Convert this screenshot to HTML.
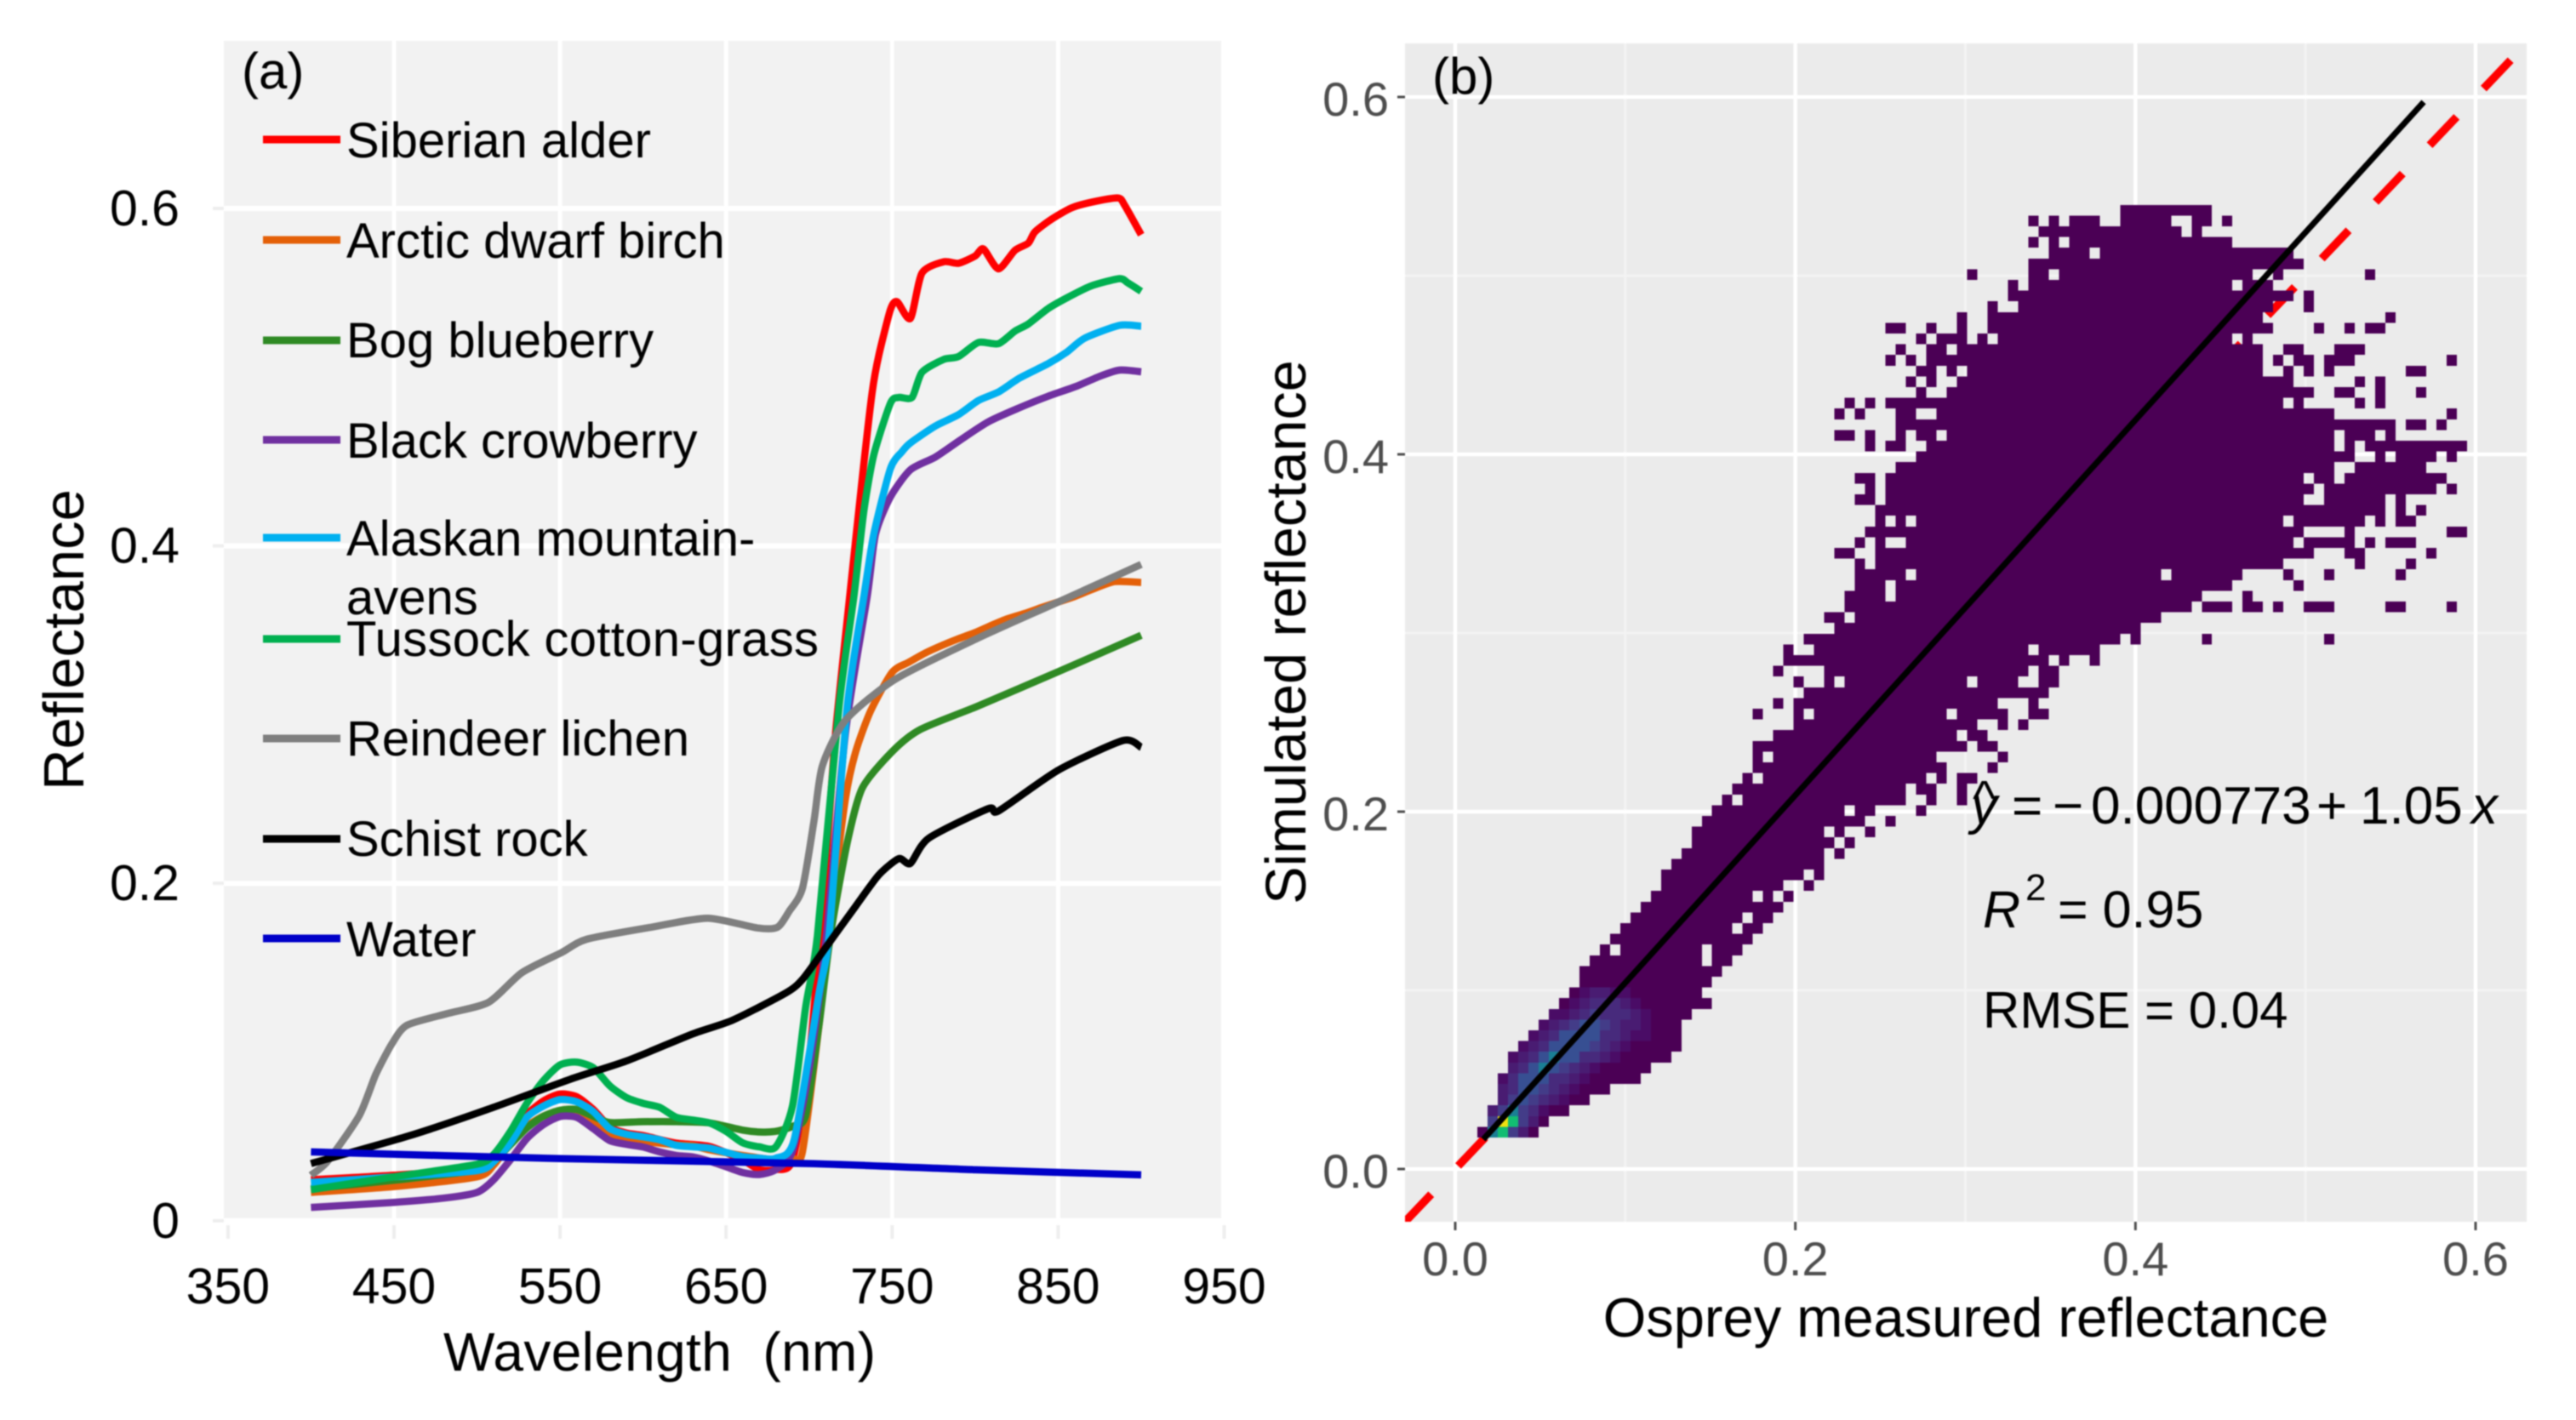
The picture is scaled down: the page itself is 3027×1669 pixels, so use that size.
<!DOCTYPE html>
<html lang="en">
<head>
<meta charset="utf-8">
<title>Reflectance spectra and simulated vs measured reflectance</title>
<style>
html,body{margin:0;padding:0;background:#fff;}
svg{display:block;filter:blur(0.7px);font-family:"Liberation Sans",Arial,sans-serif;}
</style>
</head>
<body>
<svg id="figure" xmlns="http://www.w3.org/2000/svg" width="3027" height="1669" viewBox="0 0 3027 1669">
  <rect x="0" y="0" width="3027" height="1669" fill="#ffffff"/>
  <defs>
    <clipPath id="clip-b"><rect x="1651" y="51" width="1318" height="1385"/></clipPath>
  </defs>

  <g id="panel-a">
    <rect x="263" y="48" width="1172" height="1385" fill="#f2f2f2"/>
    <g id="a-grid"></g>
    <g id="a-lines"></g>
    <g id="a-ticks" font-size="59" fill="#000"></g>
    <text x="284" y="104" font-size="60" fill="#000">(a)</text>
    <text x="775" y="1611" font-size="64" fill="#000" text-anchor="middle" xml:space="preserve" textLength="508">Wavelength  (nm)</text>
    <text transform="translate(98,752) rotate(-90)" font-size="67" fill="#000" text-anchor="middle">Reflectance</text>

    <g font-size="58" fill="#000" stroke-linecap="butt">
      <line x1="309" x2="400" y1="164" y2="164" stroke="#ff0000" stroke-width="9"/>
      <text x="407" y="185">Siberian alder</text>
      <line x1="309" x2="400" y1="282" y2="282" stroke="#e46008" stroke-width="9"/>
      <text x="407" y="303">Arctic dwarf birch</text>
      <line x1="309" x2="400" y1="400" y2="400" stroke="#2f8a24" stroke-width="9"/>
      <text x="407" y="420">Bog blueberry</text>
      <line x1="309" x2="400" y1="517" y2="517" stroke="#7030a0" stroke-width="9"/>
      <text x="407" y="538">Black crowberry</text>
      <line x1="309" x2="400" y1="632" y2="632" stroke="#00b0f0" stroke-width="9"/>
      <text x="407" y="653">Alaskan mountain-</text>
      <text x="407" y="722">avens</text>
      <line x1="309" x2="400" y1="751" y2="751" stroke="#00b050" stroke-width="9"/>
      <text x="407" y="771" textLength="555">Tussock cotton-grass</text>
      <line x1="309" x2="400" y1="868" y2="868" stroke="#7f7f7f" stroke-width="9"/>
      <text x="407" y="888">Reindeer lichen</text>
      <line x1="309" x2="400" y1="986" y2="986" stroke="#000000" stroke-width="9"/>
      <text x="407" y="1006">Schist rock</text>
      <line x1="309" x2="400" y1="1103" y2="1103" stroke="#0000c8" stroke-width="9"/>
      <text x="407" y="1124">Water</text>
    </g>
  </g>

  <g id="panel-b">
    <rect x="1651" y="51" width="1318" height="1385" fill="#ebebeb"/>
    <g id="b-grid"></g>
    <g clip-path="url(#clip-b)">
      <line id="one-to-one" stroke="#ff0000" stroke-width="9.5" stroke-dasharray="46 46" fill="none"/>
      <g id="heat" shape-rendering="crispEdges"></g>
      <line id="fit-line" stroke="#000000" stroke-width="7" fill="none"/>
    </g>
    <g id="b-ticks" font-size="56" fill="#4d4d4d"></g>
    <text x="1683" y="110" font-size="60" fill="#000">(b)</text>
    <text x="2310" y="1571" font-size="65" fill="#000" text-anchor="middle">Osprey measured reflectance</text>
    <text transform="translate(1534,743) rotate(-90)" font-size="66.5" fill="#000" text-anchor="middle">Simulated reflectance</text>

    <g font-size="62" fill="#000">
      <text x="2316" y="968" font-style="italic">y</text>
      <text x="2318" y="958" font-size="58">^</text>
      <text x="2364" y="968">=</text>
      <text x="2412" y="968">−</text>
      <text x="2457" y="968">0.000773</text>
      <text x="2722" y="968">+</text>
      <text x="2773" y="968">1.05</text>
      <text x="2904" y="968" font-style="italic">x</text>
    </g>
    <g font-size="61" fill="#000">
      <text x="2330" y="1090" font-style="italic">R</text>
      <text x="2380" y="1058" font-size="44">2</text>
      <text x="2418" y="1090">= 0.95</text>
    </g>
    <text x="2330" y="1208" font-size="60" fill="#000">RMSE = 0.04</text>
  </g>
</svg>

<script>
/* ---------- Panel (a) data: wavelength (nm) and reflectance per species ---------- */
const alderWl = [400,450,500,510,520,530,540,550,560,570,580,590,600,620,640,660,670,680,690,700,710,716,725,732,738,742,749,753,761,768,781,790,800,805,814,824,832,836,846,858,870,886,890,900];
const alderR = [.0243,.027,.031,.037,.05,.063,.071,.0751,.0735,.066,.0555,.052,.0505,.046,.044,.036,.0303,.0303,.036,.095,.21,.29,.375,.44,.491,.513,.54,.5447,.5348,.5617,.5684,.5675,.5718,.576,.5642,.5752,.5794,.5861,.5936,.6003,.6037,.6062,.602,.5844];
const birchWl = [400,450,500,510,520,530,540,550,560,570,580,590,600,620,630,640,660,680,690,696,706,715,722,728,737,750,760,770,780,790,801,810,820,830,840,850,860,870,884,900];
const birchR = [.0168,.0202,.026,.033,.046,.056,.062,.0645,.064,.058,.05,.048,.047,.045,.0445,.042,.0387,.036,.037,.0408,.1164,.197,.2509,.2778,.302,.325,.331,.3365,.341,.345,.349,.353,.357,.36,.3635,.3667,.37,.374,.3788,.3783];
const blueberryWl = [400,450,500,510,520,530,540,550,560,570,580,600,620,640,660,670,680,690,698,706,713,723,732,750,767,801,850,900];
const blueberryR = [.019,.024,.03,.035,.045,.055,.062,.0655,.066,.062,.0582,.0587,.0587,.058,.0537,.0526,.053,.056,.0625,.1164,.17,.2242,.2564,.278,.2912,.3048,.3254,.347];
const crowberryWl = [400,450,480,500,510,520,530,540,550,560,570,580,590,600,610,620,630,640,650,660,670,680,690,700,710,722,735,740,749,761,776,791,808,827,844,861,875,887,900];
const crowberryR = [.0079,.0109,.0134,.0168,.0243,.036,.0487,.057,.0618,.0613,.0546,.0475,.0453,.0437,.0408,.0387,.0378,.0353,.032,.0286,.0274,.0303,.0412,.09,.165,.29,.37,.407,.429,.4451,.4526,.4627,.4736,.482,.4887,.4946,.5005,.5042,.5032];
const avensWl = [400,450,500,510,520,530,540,550,560,570,580,590,600,610,620,630,640,650,660,670,680,691,706,712,723,733,739,749,756,761,776,790,802,814,827,844,855,866,887,900];
const avensR = [.0227,.026,.0297,.035,.046,.0613,.068,.0718,.0705,.0647,.0546,.0513,.0497,.048,.0447,.0438,.043,.0405,.038,.0371,.0371,.048,.135,.169,.3048,.37,.407,.4458,.4559,.461,.471,.4778,.4862,.4912,.4996,.508,.5147,.5231,.5307,.5302];
const cottonGrassWl = [400,450,500,510,520,530,540,550,560,570,580,590,600,610,620,630,640,650,660,670,680,690,698,705,718,727,733,739,749,754,762,768,781,790,802,814,824,832,844,856,870,887,892,900];
const cottonGrassR = [.0184,.026,.0335,.0393,.0528,.0696,.0831,.0924,.094,.0907,.08,.073,.0696,.0672,.0613,.0597,.058,.053,.0462,.0438,.0438,.068,.127,.1688,.3048,.37,.4207,.454,.4845,.488,.488,.5029,.5105,.5122,.5206,.5198,.5273,.5315,.5407,.5474,.5541,.5584,.5559,.5509];
const lichenWl = [400,410,429,439,449,458,483,507,527,551,566,605,639,669,681,688,696,703,708,722,752,801,850,900];
const lichenR = [.027,.0353,.0622,.0867,.1053,.116,.123,.1295,.147,.159,.1668,.174,.1793,.1735,.174,.1834,.197,.2373,.2697,.2967,.321,.345,.3667,.389];
const rockWl = [400,458,507,556,590,630,654,686,696,710,728,742,754,761,772,808,814,850,889,900];
const rockR = [.0339,.05,.0662,.0838,.0947,.1108,.1189,.135,.143,.1619,.1864,.205,.2146,.2118,.2267,.2443,.2428,.267,.2846,.2806];
const waterWl = [400,550,700,800,900];
const waterR = [.0408,.0368,.0339,.0302,.0272];

const aXTicks = [350,450,550,650,750,850,950];
const aYTicks = [0,0.2,0.4,0.6];
const aYTickLabels = ["0","0.2","0.4","0.6"];

/* ---------- Panel (b) data ---------- */
const bTicks = [0,0.2,0.4,0.6];
const bTickLabels = ["0.0","0.2","0.4","0.6"];
const bMinorTicks = [0.1,0.3,0.5];
const fitIntercept = -0.000773;
const fitSlope = 1.05;
const fitXStart = 0.0165;
const fitXEnd = 0.5695;
const identityRange = [-0.03,0.63];
const binOriginX = 0.013;
const binOriginY = 0.0176;
const binSize = 0.006;

/* occupied bins per row: flat [firstCol,lastCol, firstCol,lastCol, ...]; index = row from bottom */
const binRuns = [
[0,5],[1,6],[1,8],[2,10],[2,12],[2,15],[3,16],[3,18],[4,19],[5,19],
[6,19],[7,20],[8,22],[9,21],[10,22],[10,23],[11,21,23,24],[12,12,14,21,23,25],[13,26],[14,24,26,27],
[15,25,27,28],[16,29],[17,26,28,28,30,30],[18,29,32,32],[18,31,33,33],[19,33],[20,33,35,35],[21,34,36,36],[21,33,35,35,38,38],[22,37,40,40],
[23,35,37,38,43,43],[24,24,26,41,44,44,47,47],[25,41,43,44,47,47],[26,26,28,43,45,45,47,48],[27,45,50,50],[27,27,29,44,51,51],[27,47,49,50],[29,46,48,49],[31,48,51,51,53,53],[27,27,31,31,33,45,47,51,54,55],
[29,29,31,50,54,54],[32,55],[31,31,34,34,36,47,49,52,55,56],[29,29,34,53,55,56],[30,55,57,57,60,60],[30,30,33,53,55,60],[32,62,64,64,71,71,83,83],[35,64],[34,35,37,66],[36,69,71,73,75,76,78,78,81,83,89,90,95,95],
[36,39,41,70,75,75],[37,39,41,73,80,80],[37,41,43,66,68,74,79,79,83,83,90,90],[37,37,39,78,86,86,91,91],[35,36,39,81,85,86,93,93],[37,37,39,39,42,79,81,85,87,87,89,91],[38,80,85,85,95,96],[39,39,41,41,43,78,80,86,88,88,90,91],[39,88,90,90,92,92],[37,38,40,80,83,88,90,90],
[38,38,40,81,83,93,95,95],[37,38,40,80,82,83,85,94],[41,83,86,92],[43,85,88,88,90,93,95,95],[38,38,40,41,44,83,85,85,87,96],[35,36,38,38,41,41,43,44,46,83,85,87,89,89],[41,89,91,92,94,94],[35,35,37,37,41,42,45,83,95,95],[36,36,38,38,40,78,80,80,86,86,88,88],[43,43,46,81,84,85,88,88,92,92],
[42,42,44,44,47,79,86,86,88,88],[43,44,46,46,48,76,79,79,81,81,83,83,91,92],[40,40,42,42,44,76,78,78,80,81,83,85,95,95],[41,41,44,45,47,76,79,80,84,86],[43,43,45,47,49,49,51,73,75,75],[40,41,44,44,47,47,50,77,82,82,85,85,87,88],[47,47,50,76,89,89],[50,50,53,77,81,81],[52,79,81,81],[52,52,54,73,75,77],
[48,48,54,55,57,75,78,78,87,87],[54,80],[56,59,61,79],[54,54,56,56,58,73],[55,68,70,70],[54,54,56,56,58,60,63,67,70,71,73,73],[63,71]
];

/* elevated density near the origin: first column of each row, then a density level (0-8) per column */
const hotRowStart = [0,1,1,2,2,2,3,3,4,5,6,7,9,10];
const hotRowLevels = [
[0,6,7,4,2,0],
[4,8,7,4,2,0],
[2,4,6,4,3,1,0,0],
[2,4,5,4,3,2,1],
[2,3,5,5,4,3,2,1],
[1,3,5,5,5,3,3,2,1],
[2,3,5,6,5,4,3,2,1],
[1,2,3,5,6,5,5,3,3,2,1],
[1,2,3,5,5,5,5,4,3,2,1],
[1,2,3,5,5,5,5,3,3,2,1,1],
[1,2,3,4,5,5,4,3,2,2,1],
[1,1,2,3,4,3,3,3,2,1],
[1,2,3,3,3,2,1],
[1,2,2,1,1]
];
const densityRamp = ["#4b0055","#4a0c66","#491c72","#472a7c","#433c88","#374f92","#1a7f94","#12bd72","#f0e010"];

/* ---------- Axis functions ---------- */
const NS = "http://www.w3.org/2000/svg";
function ax(w){ return 463 + (w - 450) * 1.951; }
function ay(v){ return 245 + (0.6 - v) * 1983; }
function bx(v){ return 1710 + v * 1998.3; }
function by(v){ return 1374 - v * 2100; }

function make(tag, parent, attrs){
  const el = document.createElementNS(NS, tag);
  for (const k in attrs) el.setAttribute(k, attrs[k]);
  parent.appendChild(el);
  return el;
}

/* Smooth path through the projected points (Catmull-Rom, mild tension) */
function smoothPath(pts){
  let d = "M" + pts[0][0].toFixed(1) + " " + pts[0][1].toFixed(1);
  const t = 0.12;
  for (let i = 0; i < pts.length - 1; i++){
    const p0 = pts[Math.max(i - 1, 0)];
    const p1 = pts[i];
    const p2 = pts[i + 1];
    const p3 = pts[Math.min(i + 2, pts.length - 1)];
    const c1x = p1[0] + (p2[0] - p0[0]) * t;
    const c1y = p1[1] + (p2[1] - p0[1]) * t;
    const c2x = p2[0] - (p3[0] - p1[0]) * t;
    const c2y = p2[1] - (p3[1] - p1[1]) * t;
    d += "C" + c1x.toFixed(1) + " " + c1y.toFixed(1) + " " + c2x.toFixed(1) + " " + c2y.toFixed(1) + " " + p2[0].toFixed(1) + " " + p2[1].toFixed(1);
  }
  return d;
}

/* ---------- Panel (a) ---------- */
const aGrid = document.getElementById("a-grid");
for (const v of aYTicks){
  const gl = make("line", aGrid, {x1:263, x2:1435, y1:ay(v), y2:ay(v), stroke:"#ffffff", "stroke-width":6});
  
  
  const tm = make("line", aGrid, {x1:250, x2:263, y1:ay(v), y2:ay(v), stroke:"#eeeeee", "stroke-width":4});
  
  
}
for (const w of aXTicks){
  if (w > 350 && w < 950) {
    const gl = make("line", aGrid, {x1:ax(w), x2:ax(w), y1:48, y2:1433, stroke:"#ffffff", "stroke-width":5});
    
    
  }
  const tm = make("line", aGrid, {x1:ax(w), x2:ax(w), y1:1440, y2:1456, stroke:"#eeeeee", "stroke-width":4});
  
  
}

const spectraWl = [alderWl,birchWl,blueberryWl,crowberryWl,avensWl,cottonGrassWl,lichenWl,rockWl,waterWl];
const spectraR = [alderR,birchR,blueberryR,crowberryR,avensR,cottonGrassR,lichenR,rockR,waterR];
const spectraColor = ["#ff0000","#e46008","#2f8a24","#7030a0","#00b0f0","#00b050","#7f7f7f","#000000","#0000c8"];
const spectraSlug = ["siberian-alder","arctic-dwarf-birch","bog-blueberry","black-crowberry","alaskan-mountain-avens","tussock-cotton-grass","reindeer-lichen","schist-rock","water"];
const aLines = document.getElementById("a-lines");
spectraWl.forEach(function(wl, s){
  const pts = wl.map(function(w, i){ return [ax(w), ay(spectraR[s][i])]; });
  const line = make("path", aLines, {d:smoothPath(pts), fill:"none", stroke:spectraColor[s], "stroke-width":8.5, "stroke-linejoin":"round"});
  
  
});

const aTicks = document.getElementById("a-ticks");
aXTicks.forEach(function(w){
  const t = make("text", aTicks, {x:ax(w), y:1532, "text-anchor":"middle"});
  t.textContent = String(w);
  
  
});
aYTicks.forEach(function(v, i){
  const t = make("text", aTicks, {x:211, y:ay(v) + 20, "text-anchor":"end"});
  t.textContent = aYTickLabels[i];
  
  
});

/* ---------- Panel (b) ---------- */
const bGrid = document.getElementById("b-grid");
for (const v of bMinorTicks){
  const h = make("line", bGrid, {x1:1651, x2:2969, y1:by(v), y2:by(v), stroke:"#f3f3f3", "stroke-width":3});
  
  
  const u = make("line", bGrid, {x1:bx(v), x2:bx(v), y1:51, y2:1436, stroke:"#f3f3f3", "stroke-width":3});
  
  
}
for (const v of bTicks){
  const h = make("line", bGrid, {x1:1651, x2:2969, y1:by(v), y2:by(v), stroke:"#ffffff", "stroke-width":4.5});
  
  
  const u = make("line", bGrid, {x1:bx(v), x2:bx(v), y1:51, y2:1436, stroke:"#ffffff", "stroke-width":4.5});
  
  
}

const oneToOne = document.getElementById("one-to-one");
oneToOne.setAttribute("x1", bx(identityRange[0]));
oneToOne.setAttribute("y1", by(identityRange[0]));
oneToOne.setAttribute("x2", bx(identityRange[1]));
oneToOne.setAttribute("y2", by(identityRange[1]));

const heat = document.getElementById("heat");
function colX(k){ return bx(binOriginX + k * binSize); }
function rowY(j){ return by(binOriginY + j * binSize); }
binRuns.forEach(function(runs, j){
  for (let i = 0; i < runs.length; i += 2){
    const x0 = colX(runs[i]);
    const x1 = colX(runs[i + 1] + 1);
    const yTop = rowY(j + 1);
    const yBot = rowY(j);
    const cell = make("rect", heat, {x:x0, y:yTop, width:x1 - x0, height:yBot - yTop, fill:densityRamp[0]});
    
    
  }
});
hotRowLevels.forEach(function(levels, j){
  levels.forEach(function(level, c){
    const k = hotRowStart[j] + c;
    const x0 = colX(k);
    const yTop = rowY(j + 1);
    const cell = make("rect", heat, {x:x0, y:yTop, width:colX(k + 1) - x0, height:rowY(j) - yTop, fill:densityRamp[level]});
    
    
  });
});

const fitLine = document.getElementById("fit-line");
fitLine.setAttribute("x1", bx(fitXStart));
fitLine.setAttribute("y1", by(fitIntercept + fitSlope * fitXStart));
fitLine.setAttribute("x2", bx(fitXEnd));
fitLine.setAttribute("y2", by(fitIntercept + fitSlope * fitXEnd));

const bTickGroup = document.getElementById("b-ticks");
bTicks.forEach(function(v, i){
  const xm = make("line", bTickGroup, {x1:bx(v), x2:bx(v), y1:1436, y2:1446, stroke:"#4d4d4d", "stroke-width":3});
  
  
  const ym = make("line", bTickGroup, {x1:1642, x2:1651, y1:by(v), y2:by(v), stroke:"#4d4d4d", "stroke-width":3});
  
  
  const xt = make("text", bTickGroup, {x:bx(v), y:1499, "text-anchor":"middle"});
  xt.textContent = bTickLabels[i];
  
  
  const yt = make("text", bTickGroup, {x:1632, y:by(v) + 22, "text-anchor":"end"});
  yt.textContent = bTickLabels[i];
  
  
});
</script>
</body>
</html>
